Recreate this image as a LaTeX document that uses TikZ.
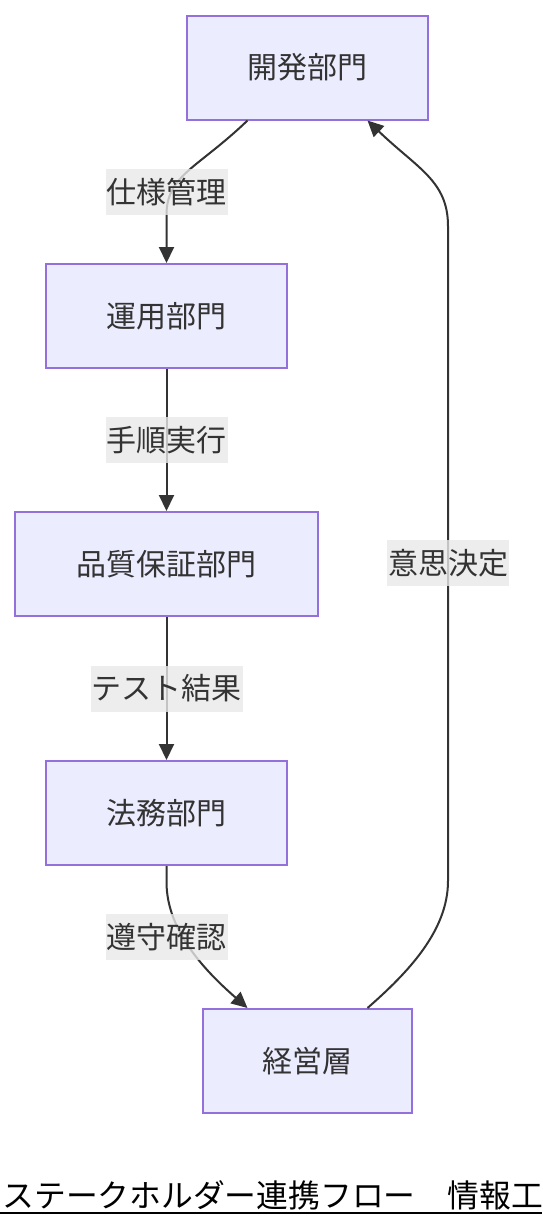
\documentclass[tikz,border=0pt]{standalone}
\usepackage{fontspec}
\setmainfont{Noto Sans CJK JP}
\usetikzlibrary{arrows.meta}

\definecolor{deptfill}{HTML}{ECECFF}
\definecolor{deptline}{HTML}{9370DB}
\definecolor{textgray}{HTML}{333333}
\definecolor{labelgray}{HTML}{E8E8E8}

\begin{document}
\begin{tikzpicture}[x=0.5pt,y=-0.5pt,
  dept/.style={draw=deptline, fill=deptfill, line width=1pt, text=textgray,
    font=\fontsize{15pt}{18pt}\selectfont, minimum height=52pt, inner sep=0pt},
  flowlabel/.style={fill=labelgray, fill opacity=0.8, text opacity=1, text=textgray,
    font=\fontsize{15pt}{18pt}\selectfont, inner xsep=0.5pt, inner ysep=0pt,
    minimum height=23pt},
  flowedge/.style={draw=textgray, line width=1pt, -{Triangle[length=8pt,width=7.5pt]}}]
  \useasboundingbox (0,0) rectangle (542,1228);
  \clip (0,0) rectangle (542,1228);

  % departments
  \node[dept, minimum width=120.5pt] (dev) at (307.5,67.5) {開発部門};
  \node[dept, minimum width=120.5pt] (ops) at (166.5,316) {運用部門};
  \node[dept, minimum width=151.5pt] (qa) at (166.5,564) {品質保証部門};
  \node[dept, minimum width=120.5pt] (legal) at (166.5,813) {法務部門};
  \node[dept, minimum width=104.5pt] (mgmt) at (307.5,1061) {経営層};

  % flow
  \draw[flowedge] ([xshift=-30pt]dev.south) .. controls +(-50,48) and +(0,-40) .. ([yshift=24pt]ops.north) -- (ops.north);
  \draw[flowedge] (ops) -- (qa) node[flowlabel, midway] (lproc) {手順実行};
  \draw[flowedge] (qa) -- (legal) node[flowlabel, midway] (ltest) {テスト結果};
  \draw[flowedge] (legal.south) -- ([yshift=-8pt]legal.south) .. controls +(0,50) and +(-40,-35) .. ([xshift=-30pt]mgmt.north);
  \draw[flowedge] ([xshift=30pt]mgmt.north) .. controls +(40,-35) and +(0,50) .. (448,881) -- (448,226) .. controls +(0,-45) and +(50,48) .. ([xshift=30pt]dev.south);

  \node[flowlabel] (lspec) at (166.5,192) {仕様管理};
  \node[flowlabel] (lcheck) at (166.5,937) {遵守確認};
  \node[flowlabel] (ldecide) at (448,563) {意思決定};

  % title
  \node[anchor=base west, inner sep=0pt, font=\fontsize{15.9pt}{18pt}\selectfont] (title) at (2,1207) {ステークホルダー連携フロー　情報工};
  \draw[line width=1pt] (0,1213) -- (542,1213);
\end{tikzpicture}
\end{document}
